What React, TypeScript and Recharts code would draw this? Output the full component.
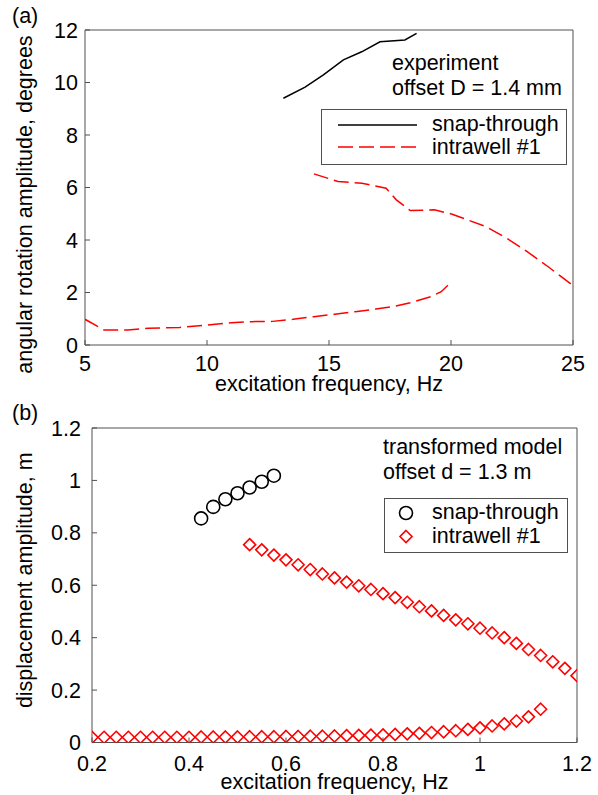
import React from 'react';
import { LineChart, Line, ScatterChart, Scatter, XAxis, YAxis, Legend } from 'recharts';

const FONT = '"Liberation Sans", Arial, Helvetica, sans-serif';
const FS = 21.5;
const BOX = '#505050';
const RED = '#ff0000';

// ---- panel (a): experiment, offset D = 1.4 mm ----
const freqTicksA = [5, 10, 15, 20, 25];
const ampTicksA = [0, 2, 4, 6, 8, 10, 12];

const snapFreqA = [13.13, 14.02, 14.77, 15.59, 16.34, 17.09, 18.11, 18.59];
const snapAmpA = [9.4, 9.82, 10.29, 10.86, 11.17, 11.55, 11.62, 11.87];

const lowFreqA = [5.0, 5.78, 6.76, 7.6, 8.88, 10.0, 11.0, 11.84, 12.69, 13.53, 14.38, 15.23, 16.07, 16.92, 17.62, 18.33, 19.17, 19.6, 19.99];
const lowAmpA = [0.98, 0.57, 0.57, 0.64, 0.67, 0.76, 0.85, 0.89, 0.9, 0.98, 1.08, 1.17, 1.27, 1.37, 1.46, 1.61, 1.84, 2.03, 2.38];

const highFreqA = [14.38, 15.37, 16.35, 17.34, 17.76, 18.33, 19.32, 20.02, 21.43, 22.28, 23.12, 23.97, 24.96];
const highAmpA = [6.52, 6.23, 6.16, 5.97, 5.53, 5.12, 5.15, 4.99, 4.51, 4.07, 3.56, 2.99, 2.29];

// ---- panel (b): transformed model, offset d = 1.3 m ----
const freqTicksB = [0.2, 0.4, 0.6, 0.8, 1, 1.2];
const ampTicksB = [0, 0.2, 0.4, 0.6, 0.8, 1, 1.2];

const snapFreqB = [0.425, 0.45, 0.475, 0.5, 0.525, 0.55, 0.575];
const snapAmpB = [0.855, 0.899, 0.928, 0.951, 0.973, 0.995, 1.018];

const lowFreqB = [0.2, 0.225, 0.25, 0.275, 0.3, 0.325, 0.35, 0.375, 0.4, 0.425, 0.45, 0.475, 0.5, 0.525, 0.55, 0.575, 0.6, 0.625, 0.65, 0.675, 0.7, 0.725, 0.75, 0.775, 0.8, 0.825, 0.85, 0.875, 0.9, 0.925, 0.95, 0.975, 1.0, 1.025, 1.05, 1.075, 1.1, 1.125];
const lowAmpB = [0.02, 0.02, 0.02, 0.02, 0.02, 0.02, 0.02, 0.02, 0.02, 0.021, 0.021, 0.021, 0.021, 0.022, 0.022, 0.022, 0.023, 0.023, 0.024, 0.024, 0.025, 0.026, 0.027, 0.028, 0.029, 0.031, 0.033, 0.035, 0.038, 0.041, 0.045, 0.05, 0.056, 0.063, 0.071, 0.082, 0.098, 0.127];

const highFreqB = [0.525, 0.55, 0.575, 0.6, 0.625, 0.65, 0.675, 0.7, 0.725, 0.75, 0.775, 0.8, 0.825, 0.85, 0.875, 0.9, 0.925, 0.95, 0.975, 1.0, 1.025, 1.05, 1.075, 1.1, 1.125, 1.15, 1.175, 1.2];
const highAmpB = [0.755, 0.735, 0.715, 0.697, 0.678, 0.66, 0.643, 0.628, 0.612, 0.598, 0.584, 0.568, 0.553, 0.535, 0.518, 0.502, 0.485, 0.468, 0.453, 0.436, 0.418, 0.4, 0.378, 0.355, 0.332, 0.308, 0.283, 0.255];

const zip = (f: number[], v: number[]) => f.map((x, i) => ({ f: x, v: v[i] }));

const TICK = { fontSize: FS, fill: '#000', fontFamily: FONT };

// rotated y title, drawn from the axis viewBox
const YTitle = (props: any) => {
  const { viewBox, text, off, shift } = props;
  const cx = viewBox.x - off;
  const cy = viewBox.y + viewBox.height / 2 + shift;
  return (
    <text x={cx} y={cy} transform={`rotate(-90, ${cx}, ${cy})`} textAnchor="middle"
      dominantBaseline="central" fontSize={FS} fontFamily={FONT} fill="#000">{text}</text>
  );
};

const Circle = (p: any) => <circle cx={p.cx} cy={p.cy} r={6.5} fill="none" stroke="#000" strokeWidth={1.6} />;
const Diamond = (p: any) => (
  <path d={`M${p.cx},${p.cy - 6}L${p.cx + 6},${p.cy}L${p.cx},${p.cy + 6}L${p.cx - 6},${p.cy}Z`}
    fill="none" stroke={RED} strokeWidth={1.6} />
);

const LegendA = () => (
  <svg width={246} height={56} style={{ display: 'block', fontFamily: FONT }}>
    <rect x={0.5} y={0.5} width={245} height={55} fill="#fff" stroke={BOX} />
    <line x1={17} x2={96} y1={16} y2={16} stroke="#000" strokeWidth={1.5} />
    <line x1={17} x2={96} y1={38} y2={38} stroke={RED} strokeWidth={1.5} strokeDasharray="15 6" />
    <text x={111} y={22} fontSize={FS}>snap-through</text>
    <text x={111} y={45} fontSize={FS}>intrawell #1</text>
  </svg>
);

const LegendB = () => (
  <svg width={184} height={55} style={{ display: 'block', fontFamily: FONT }}>
    <rect x={0.5} y={0.5} width={183} height={54} fill="#fff" stroke={BOX} />
    <Circle cx={22} cy={15} />
    <Diamond cx={22} cy={38.5} />
    <text x={48} y={21} fontSize={FS}>snap-through</text>
    <text x={48} y={45} fontSize={FS}>intrawell #1</text>
  </svg>
);

export default function App() {
  return (
    <div style={{ position: 'absolute', left: 0, top: 0, width: 598, height: 795, background: '#fff', fontFamily: FONT }}>
      <div style={{ position: 'absolute', left: 0, top: 0 }}>
        <LineChart width={598} height={395} margin={{ top: 29, right: 24, bottom: 49, left: 84 }}>
          <XAxis type="number" dataKey="f" domain={[5, 25]} ticks={freqTicksA} interval={0} allowDataOverflow
            height={1} tickSize={-5} tickMargin={16} tick={TICK} stroke={BOX}
            label={{ value: 'excitation frequency, Hz', position: 'bottom', offset: 30, fill: '#000', fontSize: FS, fontFamily: FONT }} />
          <XAxis xAxisId="top" orientation="top" type="number" dataKey="f" domain={[5, 25]} ticks={freqTicksA} interval={0}
            allowDataOverflow height={1} tickSize={-5} tick={false} stroke={BOX} />
          <YAxis type="number" domain={[0, 12]} ticks={ampTicksA} interval={0} allowDataOverflow width={1}
            tickSize={-5} tickMargin={12} tick={TICK} stroke={BOX}
            label={<YTitle text="angular rotation amplitude, degrees" off={59.5} shift={17} />} />
          <YAxis yAxisId="right" orientation="right" type="number" domain={[0, 12]} ticks={ampTicksA} interval={0}
            allowDataOverflow width={1} tickSize={-5} tick={false} stroke={BOX} />
          <Line data={zip(snapFreqA, snapAmpA)} dataKey="v" name="snap-through" stroke="#000" strokeWidth={1.5}
            dot={false} isAnimationActive={false} />
          <Line data={zip(lowFreqA, lowAmpA)} dataKey="v" name="intrawell #1" stroke={RED} strokeWidth={1.5}
            strokeDasharray="15 6" dot={false} isAnimationActive={false} />
          <Line data={zip(highFreqA, highAmpA)} dataKey="v" name="intrawell #1 upper" legendType="none" stroke={RED}
            strokeWidth={1.5} strokeDasharray="15 6" dot={false} isAnimationActive={false} />
          <Legend layout="vertical" align="center" verticalAlign="middle" content={<LegendA />}
            wrapperStyle={{ left: 321, top: 109, width: 246, height: 56 }} />
        </LineChart>
      </div>
      <div style={{ position: 'absolute', left: 0, top: 398 }}>
        <ScatterChart width={598} height={397} margin={{ top: 29, right: 20, bottom: 51.5, left: 91 }}>
          <XAxis type="number" dataKey="f" domain={[0.2, 1.2]} ticks={freqTicksB} interval={0} allowDataOverflow
            height={1} tickSize={-5} tickMargin={18} tick={TICK} stroke={BOX}
            label={{ value: 'excitation frequency, Hz', position: 'bottom', offset: 30, fill: '#000', fontSize: FS, fontFamily: FONT }} />
          <XAxis xAxisId="top" orientation="top" type="number" dataKey="f" domain={[0.2, 1.2]} ticks={freqTicksB} interval={0}
            allowDataOverflow height={1} tickSize={-5} tick={false} stroke={BOX} />
          <YAxis type="number" dataKey="v" domain={[0, 1.2]} ticks={ampTicksB} interval={0} allowDataOverflow width={1}
            tickSize={-5} tickMargin={16} tick={TICK} stroke={BOX}
            label={<YTitle text="displacement amplitude, m" off={66.5} shift={-5} />} />
          <YAxis yAxisId="right" orientation="right" type="number" dataKey="v" domain={[0, 1.2]} ticks={ampTicksB} interval={0}
            allowDataOverflow width={1} tickSize={-5} tick={false} stroke={BOX} />
          <Scatter data={zip(snapFreqB, snapAmpB)} name="snap-through" shape={<Circle />} isAnimationActive={false} />
          <Scatter data={[...zip(lowFreqB, lowAmpB), ...zip(highFreqB, highAmpB)]} name="intrawell #1"
            shape={<Diamond />} isAnimationActive={false} />
          <Legend layout="vertical" align="center" verticalAlign="middle" content={<LegendB />}
            wrapperStyle={{ left: 384, top: 100, width: 184, height: 55 }} />
        </ScatterChart>
      </div>
      <svg width={598} height={795} style={{ position: 'absolute', left: 0, top: 0, pointerEvents: 'none' }}
        fontFamily={FONT} fontSize={FS} fill="#000">
        <text x={12} y={23}>(a)</text>
        <text x={392} y={70}>experiment</text>
        <text x={392} y={95}>offset D = 1.4 mm</text>
        <text x={12} y={420}>(b)</text>
        <text x={383} y={454}>transformed model</text>
        <text x={383} y={479}>offset d = 1.3 m</text>
      </svg>
    </div>
  );
}
